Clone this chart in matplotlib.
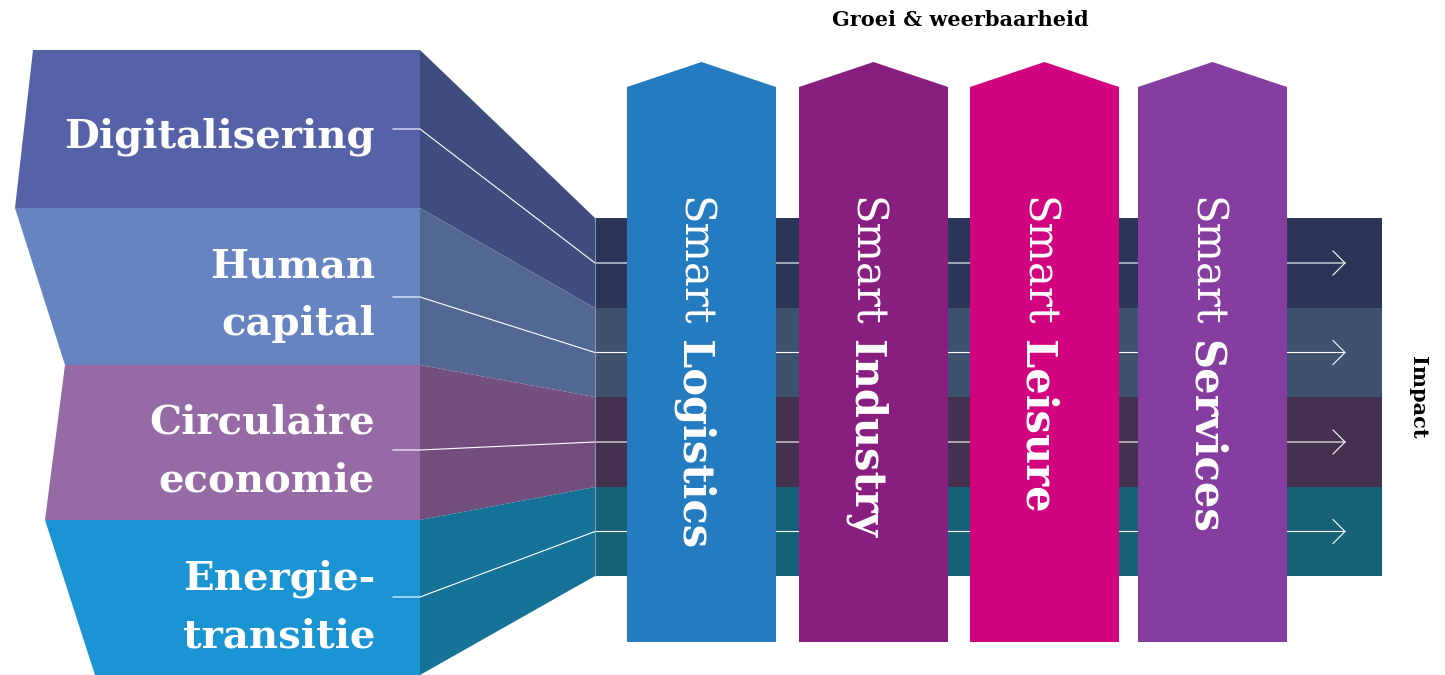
import matplotlib
matplotlib.use("Agg")
import matplotlib.pyplot as plt
from matplotlib.patches import Polygon

# drivers on the left (text lines, front colour, side colour)
drivers = [["Digitalisering"], ["Human", "capital"], ["Circulaire", "economie"], ["Energie-", "transitie"]]
driver_front = ["#5662A8", "#6784C2", "#966BA5", "#1A94D3"]
driver_side = ["#3F4C7E", "#526892", "#734F80", "#167397"]
band_colors = ["#2B3558", "#3E5270", "#44304F", "#176177"]

# smart sectors (vertical pillars)
sectors = ["Logistics", "Industry", "Leisure", "Services"]
sector_colors = ["#247BC0", "#881F80", "#D2037F", "#853EA0"]

top_title = "Groei & weerbaarheid"
side_title = "Impact"

FONT = "DejaVu Serif"

fig = plt.figure(figsize=(14.45, 6.75), dpi=100)
ax = fig.add_axes([0, 0, 1, 1])
ax.set_xlim(0, 1445)
ax.set_ylim(675, 0)
ax.axis("off")

# layout (pixel coords)
front_left = [33, 15, 65, 45, 95]      # left edge x at each boundary
front_y = [50, 208, 365, 520, 675]     # boundary y of front panels
front_right = 420
band_left, band_right = 595, 1382
band_y = [218, 308, 397, 487, 576]
label_y = [129, 297, 450, 597]          # where the white connector starts
label_base = [[148], [277, 335], [434, 492], [590, 648]]

for i in range(4):
    front = [(front_left[i], front_y[i]), (front_right, front_y[i]),
             (front_right, front_y[i + 1]), (front_left[i + 1], front_y[i + 1])]
    ax.add_patch(Polygon(front, closed=True, fc=driver_front[i], ec="none", zorder=2))
    side = [(front_right, front_y[i]), (band_left, band_y[i]),
            (band_left, band_y[i + 1]), (front_right, front_y[i + 1])]
    ax.add_patch(Polygon(side, closed=True, fc=driver_side[i], ec="none", zorder=2))
    ax.add_patch(Polygon([(band_left, band_y[i]), (band_right, band_y[i]),
                          (band_right, band_y[i + 1]), (band_left, band_y[i + 1])],
                         closed=True, fc=band_colors[i], ec="none", zorder=1))
    for line, yb in zip(drivers[i], label_base[i]):
        ax.text(375, yb, line, ha="right", va="baseline", color="white",
                fontsize=29, fontweight="bold", family=FONT, zorder=5)
    # white connector line with open arrow head
    yc = (band_y[i] + band_y[i + 1]) / 2
    ax.plot([393, front_right, band_left, 1345], [label_y[i], label_y[i], yc, yc],
            color="white", lw=0.8, zorder=3)
    ax.plot([1333, 1345, 1333], [yc - 12, yc, yc + 12], color="white", lw=0.8, zorder=3)

# thin light edge between side panels and bands
ax.plot([band_left, band_left], [band_y[0], band_y[-1]], color="#9AA6C0", lw=0.6, zorder=3)

# pillars
pillar_left = [627, 799, 970, 1138]
pillar_w = 149
peak_y, shoulder_y, bottom_y = 62, 87, 642
fig.canvas.draw()
renderer = fig.canvas.get_renderer()
fs = 30
for i, name in enumerate(sectors):
    x0 = pillar_left[i]
    x1 = x0 + pillar_w
    xc = (x0 + x1) / 2
    ax.add_patch(Polygon([(x0, shoulder_y), (xc, peak_y), (x1, shoulder_y),
                          (x1, bottom_y), (x0, bottom_y)],
                         closed=True, fc=sector_colors[i], ec="none", zorder=4))
    bx = xc - 20
    t1 = ax.text(bx, 197, "Smart", rotation=-90, rotation_mode="anchor",
                 ha="left", va="baseline", color="white", fontsize=fs,
                 family=FONT, fontweight="light", zorder=6)
    bb = t1.get_window_extent(renderer=renderer)
    gap = fs / 72 * 100 * 0.32
    ax.text(bx, 197 + bb.height + gap, name, rotation=-90, rotation_mode="anchor",
            ha="left", va="baseline", color="white", fontsize=fs,
            family=FONT, fontweight="bold", zorder=6)

ax.text(960, 20, top_title, ha="center", va="center", fontsize=15,
        fontweight="bold", family=FONT, color="black")
ax.text(1418, 397, side_title, ha="center", va="center", rotation=-90,
        fontsize=15, fontweight="bold", family=FONT, color="black")

fig.savefig("out.png", dpi=100)
